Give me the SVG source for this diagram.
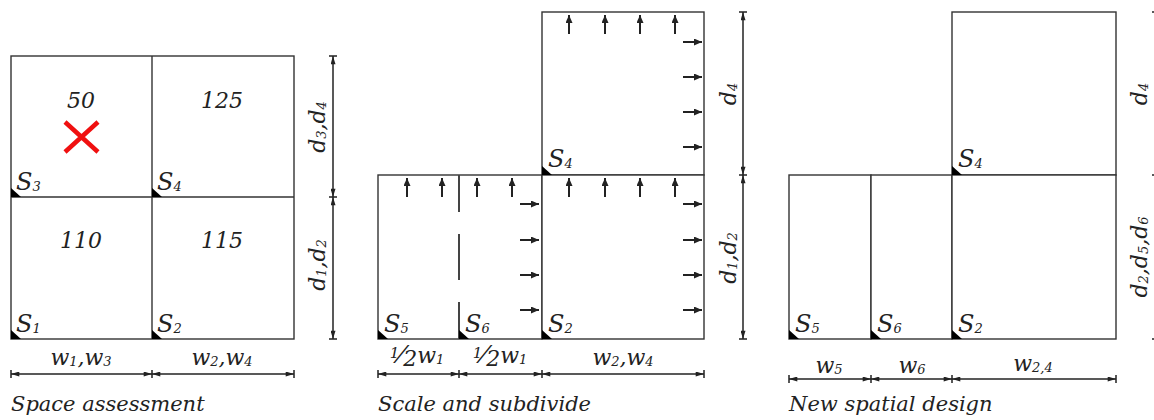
<svg xmlns="http://www.w3.org/2000/svg" width="1154" height="420" viewBox="0 0 1154 420">
<defs>
<marker id="dim" viewBox="0 0 10 6" refX="10" refY="3" markerWidth="10" markerHeight="5" markerUnits="userSpaceOnUse" orient="auto-start-reverse"><path d="M0,0 L10,3 L0,6 z" fill="#222"/></marker>
<marker id="ar" viewBox="0 0 8 7" refX="8" refY="3.5" markerWidth="8" markerHeight="7" markerUnits="userSpaceOnUse" orient="auto"><path d="M0,0 L8,3.5 L0,7 z" fill="#222"/></marker>
</defs>
<style>
.box{fill:#fff;stroke:#333;stroke-width:1.4}
.ln{stroke:#444;stroke-width:2;fill:none}
.dim{stroke:#222;stroke-width:1.5;marker-start:url(#dim);marker-end:url(#dim)}
.tk{stroke:#222;stroke-width:1.5}
.arw{stroke:#222;stroke-width:2;marker-end:url(#ar)}
.cor{fill:#000}
text{font-family:"DejaVu Serif","Liberation Serif",serif;font-style:italic;fill:#222}
.lb{font-size:22px}
.s{font-size:24px}
.num{font-size:22px;text-anchor:middle}
.mid{text-anchor:middle}
.sb{font-size:13px}
.ttl{font-size:21px}
</style>

<g id="panel1">
<rect class="box" x="11" y="56" width="283" height="283"/>
<line class="box" x1="152" y1="56" x2="152" y2="339"/>
<line class="box" x1="11" y1="197" x2="294" y2="197"/>
<g id="p1-s3"><path class="cor" d="M11,188 L11,197 L21,197 z"/><text class="s" x="16" y="190">S<tspan class="sb" dy="1">3</tspan></text><text class="num" x="81" y="108">50</text>
<path d="M65,122 L98,152 M98,122 L65,152" stroke="#f01010" stroke-width="4.5" fill="none"/></g>
<g id="p1-s4"><path class="cor" d="M152,188 L152,197 L162,197 z"/><text class="s" x="157" y="190">S<tspan class="sb" dy="1">4</tspan></text><text class="num" x="222" y="108">125</text></g>
<g id="p1-s1"><path class="cor" d="M11,330 L11,339 L21,339 z"/><text class="s" x="16" y="332">S<tspan class="sb" dy="1">1</tspan></text><text class="num" x="81" y="248">110</text></g>
<g id="p1-s2"><path class="cor" d="M152,330 L152,339 L162,339 z"/><text class="s" x="157" y="332">S<tspan class="sb" dy="1">2</tspan></text><text class="num" x="222" y="248">115</text></g>
<text class="ttl" x="11" y="411">Space assessment</text>
</g>

<g id="panel2">
<rect class="box" x="542" y="12" width="162" height="163"/>
<rect class="box" x="378" y="175" width="164" height="164"/>
<rect class="box" x="542" y="175" width="162" height="164"/>
<path class="ln" d="M459,175 V212 M459,234 V280 M459,302 V339"/>
<g id="p2-s4"><path class="cor" d="M542,166 L542,175 L552,175 z"/><text class="s" x="548" y="167">S<tspan class="sb" dy="1">4</tspan></text></g>
<g id="p2-s5"><path class="cor" d="M378,330 L378,339 L388,339 z"/><text class="s" x="384" y="332">S<tspan class="sb" dy="1">5</tspan></text></g>
<g id="p2-s6"><path class="cor" d="M459,330 L459,339 L469,339 z"/><text class="s" x="465" y="332">S<tspan class="sb" dy="1">6</tspan></text></g>
<g id="p2-s2"><path class="cor" d="M542,330 L542,339 L552,339 z"/><text class="s" x="548" y="332">S<tspan class="sb" dy="1">2</tspan></text></g>
<text class="ttl" x="378" y="411">Scale and subdivide</text>
</g>

<g id="panel3">
<rect class="box" x="952" y="12" width="164" height="163"/>
<rect class="box" x="789" y="175" width="82" height="164"/>
<rect class="box" x="871" y="175" width="81" height="164"/>
<rect class="box" x="952" y="175" width="164" height="164"/>
<g id="p3-s4"><path class="cor" d="M952,166 L952,175 L962,175 z"/><text class="s" x="958" y="167">S<tspan class="sb" dy="1">4</tspan></text></g>
<g id="p3-s5"><path class="cor" d="M789,330 L789,339 L799,339 z"/><text class="s" x="795" y="332">S<tspan class="sb" dy="1">5</tspan></text></g>
<g id="p3-s6"><path class="cor" d="M871,330 L871,339 L881,339 z"/><text class="s" x="877" y="332">S<tspan class="sb" dy="1">6</tspan></text></g>
<g id="p3-s2"><path class="cor" d="M952,330 L952,339 L962,339 z"/><text class="s" x="958" y="332">S<tspan class="sb" dy="1">2</tspan></text></g>
<text class="ttl" x="789" y="411">New spatial design</text>
</g>

<g id="connectors">
<line class="dim" x1="333" y1="56" x2="333" y2="197"/>
<line class="dim" x1="333" y1="197" x2="333" y2="339"/>
<path class="tk" d="M329,56 H337 M329,197 H337 M329,339 H337"/>
<line class="dim" x1="11" y1="374" x2="152" y2="374"/>
<line class="dim" x1="152" y1="374" x2="294" y2="374"/>
<path class="tk" d="M11,370 V378 M152,370 V378 M294,370 V378"/>
<line class="dim" x1="743" y1="12" x2="743" y2="175"/>
<line class="dim" x1="743" y1="175" x2="743" y2="339"/>
<path class="tk" d="M739,12 H747 M739,175 H747 M739,339 H747"/>
<line class="dim" x1="378" y1="374" x2="459" y2="374"/>
<line class="dim" x1="459" y1="374" x2="542" y2="374"/>
<line class="dim" x1="542" y1="374" x2="704" y2="374"/>
<path class="tk" d="M378,370 V378 M459,370 V378 M542,370 V378 M704,370 V378"/>
<line class="dim" x1="1158" y1="12" x2="1158" y2="175"/>
<line class="dim" x1="1158" y1="175" x2="1158" y2="339"/>
<path class="tk" d="M1152,12 H1164 M1152,175 H1164 M1152,339 H1164"/>
<line class="dim" x1="789" y1="379" x2="871" y2="379"/>
<line class="dim" x1="871" y1="379" x2="952" y2="379"/>
<line class="dim" x1="952" y1="379" x2="1116" y2="379"/>
<path class="tk" d="M789,375 V383 M871,375 V383 M952,375 V383 M1116,375 V383"/>
<line class="arw" x1="569" y1="34" x2="569" y2="15"/>
<line class="arw" x1="605" y1="34" x2="605" y2="15"/>
<line class="arw" x1="640" y1="34" x2="640" y2="15"/>
<line class="arw" x1="675" y1="34" x2="675" y2="15"/>
<line class="arw" x1="569" y1="197" x2="569" y2="178"/>
<line class="arw" x1="605" y1="197" x2="605" y2="178"/>
<line class="arw" x1="640" y1="197" x2="640" y2="178"/>
<line class="arw" x1="675" y1="197" x2="675" y2="178"/>
<line class="arw" x1="407" y1="197" x2="407" y2="178"/>
<line class="arw" x1="442" y1="197" x2="442" y2="178"/>
<line class="arw" x1="477" y1="197" x2="477" y2="178"/>
<line class="arw" x1="512" y1="197" x2="512" y2="178"/>
<line class="arw" x1="683" y1="42" x2="702" y2="42"/>
<line class="arw" x1="683" y1="77" x2="702" y2="77"/>
<line class="arw" x1="683" y1="112" x2="702" y2="112"/>
<line class="arw" x1="683" y1="147" x2="702" y2="147"/>
<line class="arw" x1="683" y1="204" x2="702" y2="204"/>
<line class="arw" x1="683" y1="240" x2="702" y2="240"/>
<line class="arw" x1="683" y1="275" x2="702" y2="275"/>
<line class="arw" x1="683" y1="310" x2="702" y2="310"/>
<line class="arw" x1="520" y1="204" x2="539" y2="204"/>
<line class="arw" x1="520" y1="240" x2="539" y2="240"/>
<line class="arw" x1="520" y1="275" x2="539" y2="275"/>
<line class="arw" x1="520" y1="310" x2="539" y2="310"/>
</g>

<g id="labels">
<text class="lb mid" x="81" y="365">w<tspan class="sb" dy="1">1</tspan><tspan dy="-1">,w</tspan><tspan class="sb" dy="1">3</tspan></text>
<text class="lb mid" x="222" y="365">w<tspan class="sb" dy="1">2</tspan><tspan dy="-1">,w</tspan><tspan class="sb" dy="1">4</tspan></text>
<text class="lb mid" transform="translate(325,127) rotate(-90)">d<tspan class="sb" dy="1">3</tspan><tspan dy="-1">,d</tspan><tspan class="sb" dy="1">4</tspan></text>
<text class="lb mid" transform="translate(325,265) rotate(-90)">d<tspan class="sb" dy="1">1</tspan><tspan dy="-1">,d</tspan><tspan class="sb" dy="1">2</tspan></text>

<text class="lb mid" x="417" y="363"><tspan font-size="15" dy="-5">1</tspan><tspan font-size="24" dy="5">⁄</tspan><tspan dy="3">2</tspan><tspan dy="-3">w</tspan><tspan class="sb" dy="1">1</tspan></text>
<text class="lb mid" x="500" y="363"><tspan font-size="15" dy="-5">1</tspan><tspan font-size="24" dy="5">⁄</tspan><tspan dy="3">2</tspan><tspan dy="-3">w</tspan><tspan class="sb" dy="1">1</tspan></text>
<text class="lb mid" x="623" y="365">w<tspan class="sb" dy="1">2</tspan><tspan dy="-1">,w</tspan><tspan class="sb" dy="1">4</tspan></text>
<text class="lb mid" transform="translate(736,94) rotate(-90)">d<tspan class="sb" dy="1">4</tspan></text>
<text class="lb mid" transform="translate(736,258) rotate(-90)">d<tspan class="sb" dy="1">1</tspan><tspan dy="-1">,d</tspan><tspan class="sb" dy="1">2</tspan></text>

<text class="lb mid" x="829" y="373">w<tspan class="sb" dy="1">5</tspan></text>
<text class="lb mid" x="912" y="373">w<tspan class="sb" dy="1">6</tspan></text>
<text class="lb mid" x="1033" y="371">w<tspan class="sb" dy="1">2,4</tspan></text>
<text class="lb mid" transform="translate(1147,94) rotate(-90)">d<tspan class="sb" dy="1">4</tspan></text>
<text class="lb mid" transform="translate(1147,257) rotate(-90)">d<tspan class="sb" dy="1">2</tspan><tspan dy="-1">,d</tspan><tspan class="sb" dy="1">5</tspan><tspan dy="-1">,d</tspan><tspan class="sb" dy="1">6</tspan></text>
</g>
</svg>
